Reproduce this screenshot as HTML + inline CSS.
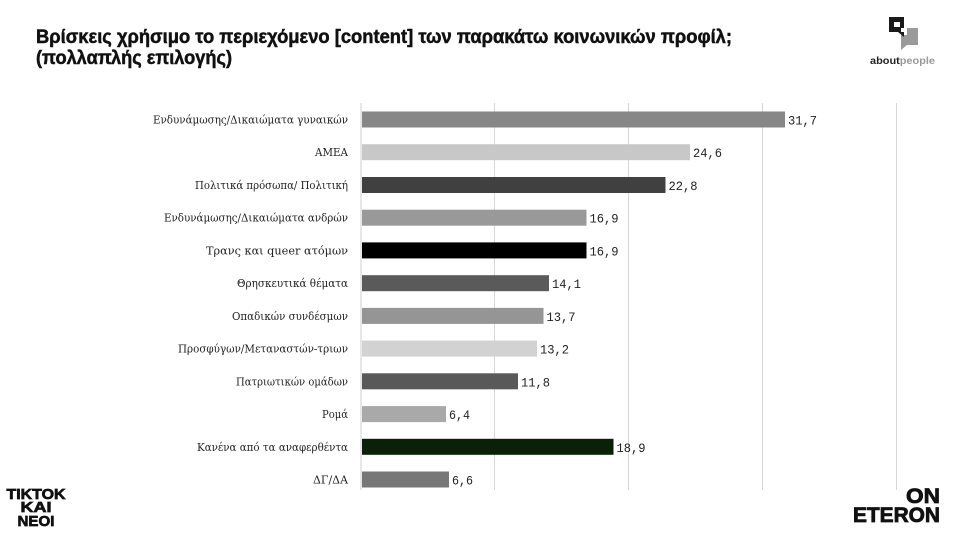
<!DOCTYPE html>
<html><head><meta charset="utf-8"><style>
html,body{margin:0;padding:0;background:#fff;}
svg{display:block;}
</style></head><body>
<svg width="953" height="534" viewBox="0 0 953 534" xmlns="http://www.w3.org/2000/svg">
<rect width="953" height="534" fill="#fff"/>
<!-- Title -->
<g font-family="'Liberation Sans', 'DejaVu Sans', sans-serif" font-weight="bold" font-size="19" fill="#111" stroke="#111" stroke-width="0.5">
<text x="36" y="43" textLength="696" lengthAdjust="spacingAndGlyphs">Βρίσκεις χρήσιμο το περιεχόμενο [content] των παρακάτω κοινωνικών προφίλ;</text>
<text x="36" y="64" textLength="196" lengthAdjust="spacingAndGlyphs">(πολλαπλής επιλογής)</text>
</g>
<!-- aboutpeople logo -->
<g>
<rect x="889" y="17" width="15" height="15" fill="#1a1a1a"/>
<rect x="894" y="22" width="6" height="5" fill="#fff"/>
<rect x="901" y="28" width="17" height="17" fill="#9a9a9a"/>
<rect x="901" y="28" width="6" height="7" fill="#fff"/>
<polygon points="898,32 904,32 904,37" fill="#1a1a1a"/>
<polygon points="901,45 907,45 901,50" fill="#9a9a9a"/>
<text x="870" y="64" font-family="'Liberation Sans', sans-serif" font-weight="bold" font-size="10.5" textLength="65" lengthAdjust="spacingAndGlyphs"><tspan fill="#222">about</tspan><tspan fill="#999">people</tspan></text>
</g>
<!-- Gridlines -->
<g stroke="#d6d6d6" stroke-width="1">
<line x1="494.5" y1="103" x2="494.5" y2="490"/>
<line x1="628.5" y1="103" x2="628.5" y2="490"/>
<line x1="762.5" y1="103" x2="762.5" y2="490"/>
<line x1="896.5" y1="103" x2="896.5" y2="490"/>
<line x1="361" y1="103" x2="361" y2="490" stroke="#cfcfcf"/>
</g>
<!-- Bars -->
<g>
<rect x="362" y="111.5" width="423" height="16" fill="#878787"/>
<rect x="362" y="144.2" width="328" height="16" fill="#c8c8c8"/>
<rect x="362" y="177" width="303.5" height="16" fill="#404040"/>
<rect x="362" y="209.7" width="224.5" height="16" fill="#999999"/>
<rect x="362" y="242.4" width="224.5" height="16" fill="#000000"/>
<rect x="362" y="275.2" width="187" height="16" fill="#5a5a5a"/>
<rect x="362" y="307.9" width="181.5" height="16" fill="#959595"/>
<rect x="362" y="340.6" width="175" height="16" fill="#d2d2d2"/>
<rect x="362" y="373.3" width="156" height="16" fill="#595959"/>
<rect x="362" y="406.1" width="84" height="16" fill="#a9a9a9"/>
<rect x="362" y="438.8" width="251.5" height="16" fill="#0a2109"/>
<rect x="362" y="471.5" width="87" height="16" fill="#777777"/>
</g>
<!-- Category labels -->
<g font-family="'DejaVu Serif', 'Liberation Serif', serif" font-size="11.5" fill="#222" text-anchor="end">
<text x="348" y="123.5" textLength="195" lengthAdjust="spacingAndGlyphs">Ενδυνάμωσης/Δικαιώματα γυναικών</text>
<text x="348" y="156.2" textLength="33" lengthAdjust="spacingAndGlyphs">ΑΜΕΑ</text>
<text x="348" y="189" textLength="153" lengthAdjust="spacingAndGlyphs">Πολιτικά πρόσωπα/ Πολιτική</text>
<text x="348" y="221.7" textLength="184" lengthAdjust="spacingAndGlyphs">Ενδυνάμωσης/Δικαιώματα ανδρών</text>
<text x="348" y="254.4" textLength="142" lengthAdjust="spacingAndGlyphs">Τρανς και queer ατόμων</text>
<text x="348" y="287.2" textLength="111" lengthAdjust="spacingAndGlyphs">Θρησκευτικά θέματα</text>
<text x="348" y="319.9" textLength="116" lengthAdjust="spacingAndGlyphs">Οπαδικών συνδέσμων</text>
<text x="348" y="352.6" textLength="170" lengthAdjust="spacingAndGlyphs">Προσφύγων/Μεταναστών-τριων</text>
<text x="348" y="385.3" textLength="112" lengthAdjust="spacingAndGlyphs">Πατριωτικών ομάδων</text>
<text x="348" y="418.1" textLength="26" lengthAdjust="spacingAndGlyphs">Ρομά</text>
<text x="348" y="450.8" textLength="151" lengthAdjust="spacingAndGlyphs">Κανένα από τα αναφερθέντα</text>
<text x="348" y="483.5" textLength="35" lengthAdjust="spacingAndGlyphs">ΔΓ/ΔΑ</text>
</g>
<!-- Value labels -->
<g font-family="'Liberation Mono', 'DejaVu Sans Mono', monospace" font-size="12.5" fill="#222">
<text x="788" y="124.5" textLength="29" lengthAdjust="spacingAndGlyphs">31,7</text>
<text x="693" y="157.2" textLength="29" lengthAdjust="spacingAndGlyphs">24,6</text>
<text x="668.5" y="190" textLength="29" lengthAdjust="spacingAndGlyphs">22,8</text>
<text x="589.5" y="222.7" textLength="29" lengthAdjust="spacingAndGlyphs">16,9</text>
<text x="589.5" y="255.4" textLength="29" lengthAdjust="spacingAndGlyphs">16,9</text>
<text x="552" y="288.2" textLength="29" lengthAdjust="spacingAndGlyphs">14,1</text>
<text x="546.5" y="320.9" textLength="29" lengthAdjust="spacingAndGlyphs">13,7</text>
<text x="540" y="353.6" textLength="29" lengthAdjust="spacingAndGlyphs">13,2</text>
<text x="521" y="386.3" textLength="29" lengthAdjust="spacingAndGlyphs">11,8</text>
<text x="449" y="419.1" textLength="21" lengthAdjust="spacingAndGlyphs">6,4</text>
<text x="616.5" y="451.8" textLength="29" lengthAdjust="spacingAndGlyphs">18,9</text>
<text x="452" y="484.5" textLength="21" lengthAdjust="spacingAndGlyphs">6,6</text>
</g>
<!-- TIKTOK KAI NEOI -->
<g font-family="'Liberation Sans', 'DejaVu Sans', sans-serif" font-weight="bold" font-size="15" fill="#111" stroke="#111" stroke-width="0.7" text-anchor="middle">
<text x="36" y="499" textLength="59" lengthAdjust="spacingAndGlyphs">TIKTOK</text>
<text x="36" y="512" textLength="31" lengthAdjust="spacingAndGlyphs">KAI</text>
<text x="36" y="526" textLength="37" lengthAdjust="spacingAndGlyphs">NEOI</text>
</g>
<!-- ON ETERON -->
<g font-family="'Liberation Sans', 'DejaVu Sans', sans-serif" font-weight="bold" font-size="21" fill="#111" stroke="#111" stroke-width="0.8" text-anchor="end">
<text x="940" y="503" textLength="34" lengthAdjust="spacingAndGlyphs">ON</text>
<text x="940" y="522" textLength="87" lengthAdjust="spacingAndGlyphs">ETERON</text>
</g>
</svg>
</body></html>
